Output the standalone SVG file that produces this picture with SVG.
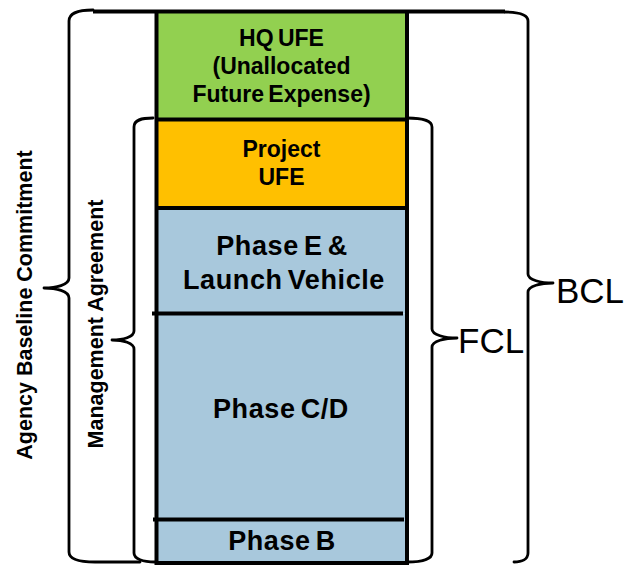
<svg xmlns="http://www.w3.org/2000/svg" width="627" height="565" viewBox="0 0 627 565">
  <style>
    .box { font-family: "Liberation Sans", Arial, sans-serif; font-weight: bold; fill: #000; text-anchor: middle; }
    .sm { font-size: 23px; word-spacing: -2px; }
    .lg { font-size: 27px; letter-spacing: 0.6px; word-spacing: -3px; }
    .side { font-family: "Liberation Sans", Arial, sans-serif; font-weight: bold; font-size: 21.5px; text-anchor: middle; }
    .lvl { font-family: "Liberation Sans", Arial, sans-serif; font-size: 35px; fill: #000; }
    .brace { fill: none; stroke: #000; stroke-width: 2.8; stroke-linecap: round; stroke-linejoin: round; }
    .rule { stroke: #000; stroke-width: 4; }
  </style>
  <rect width="627" height="565" fill="#fff"/>

  <!-- budget stack -->
  <g id="hq-ufe">
    <rect x="156.5" y="11.5" width="250.5" height="108" fill="#92D050"/>
    <text class="box sm" x="281.5" y="45.5">HQ UFE</text>
    <text class="box sm" x="281.5" y="74">(Unallocated</text>
    <text class="box sm" x="281.5" y="102">Future Expense)</text>
  </g>
  <g id="project-ufe">
    <rect x="156.5" y="119.5" width="250.5" height="88.5" fill="#FFC000"/>
    <text class="box sm" x="281.5" y="156.5">Project</text>
    <text class="box sm" x="281.5" y="185">UFE</text>
  </g>
  <g id="phase-e">
    <rect x="156.5" y="208" width="250.5" height="105.5" fill="#A8C8DC"/>
    <text class="box lg" x="282" y="255">Phase E &amp;</text>
    <text class="box lg" x="284" y="289">Launch Vehicle</text>
  </g>
  <g id="phase-cd">
    <rect x="156.5" y="313.5" width="250.5" height="206" fill="#A8C8DC"/>
    <text class="box lg" x="281" y="418">Phase C/D</text>
  </g>
  <g id="phase-b">
    <rect x="156.5" y="519.5" width="250.5" height="45.5" fill="#A8C8DC"/>
    <text class="box lg" x="282" y="550">Phase B</text>
  </g>

  <!-- stack outlines and dividers -->
  <g id="stack-lines">
    <line class="rule" x1="93" y1="11.5" x2="505" y2="11.5"/>
    <line class="rule" x1="156.5" y1="10" x2="156.5" y2="565"/>
    <line class="rule" x1="407" y1="10" x2="407" y2="565"/>
    <line class="rule" x1="156.5" y1="119.5" x2="407" y2="119.5"/>
    <line class="rule" x1="156.5" y1="208" x2="407" y2="208"/>
    <line class="rule" x1="152" y1="313.5" x2="403" y2="313.5"/>
    <line class="rule" x1="153" y1="519.5" x2="404" y2="519.5"/>
    <line class="rule" x1="156.5" y1="563" x2="407" y2="563"/>
  </g>

  <!-- braces -->
  <g id="braces">
    <path id="brace-agency" class="brace" d="M93,10 C78,10 69,13 69,21 L69,278 C69,285 56,288 44,288 C56,288 69,291 69,298 L69,552 C69,559 80,562 95,562 L140,562"/>
    <path id="brace-management" class="brace" d="M153,118 C141,118 134,120 134,127 L134,331 C134,337 123,340 112,340 C123,340 134,343 134,349 L134,553 C134,559 143,562 155,562"/>
    <path id="brace-fcl" class="brace" d="M407,118 C422,118 432,120 432,127 L432,329 C432,335 445,338 457,338 C445,338 432,341 432,347 L432,553 C432,559 422,562 407,562"/>
    <path id="brace-bcl" class="brace" d="M505,12 C519,12 528,14 528,21 L528,274 C528,280 541,283 553,283 C541,283 528,286 528,292 L528,553 C528,559 522,562 514,562"/>
  </g>

  <!-- labels -->
  <g id="label-agency">
    <text class="side" transform="translate(32,305) rotate(-90)">Agency Baseline Commitment</text>
  </g>
  <g id="label-management">
    <text class="side" transform="translate(103,324) rotate(-90)">Management Agreement</text>
  </g>
  <g id="label-fcl">
    <text class="lvl" x="458" y="353">FCL</text>
  </g>
  <g id="label-bcl">
    <text class="lvl" x="556" y="303">BCL</text>
  </g>
</svg>
